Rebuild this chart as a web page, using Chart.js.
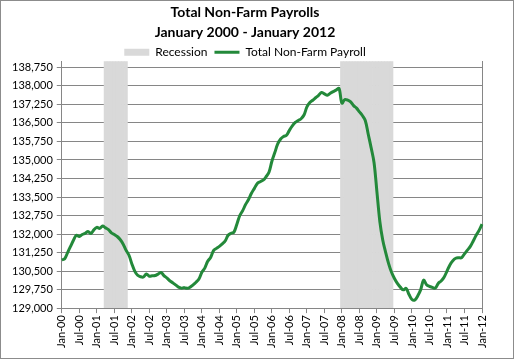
<!DOCTYPE html>
<html>
<head>
<meta charset="utf-8">
<script src="https://cdn.jsdelivr.net/npm/chart.js@4"></script>
<style>
  body { margin: 0; background: #fff; }
  #wrap { width: 514px; height: 359px; box-sizing: border-box; border: 1px solid #8c8c8c; }
</style>
</head>
<body>
<div id="wrap"><canvas id="myChart" width="512" height="357"></canvas></div>
<script>
// month labels Jan-00 .. Jan-12
let monthNames = ["Jan", "Feb", "Mar", "Apr", "May", "Jun", "Jul", "Aug", "Sep", "Oct", "Nov", "Dec"];
let months = [];
for (let y = 0; y <= 12; y++) {
    for (let m = 0; m < 12; m++) {
        if (y === 12 && m > 0) break;
        months.push(monthNames[m] + "-" + String(y).padStart(2, "0"));
    }
}

// Total non-farm payroll (thousands), one value per month
let payroll2000 = [130950, 131000, 131250, 131500, 131750, 131950, 131900, 131980, 132030, 132100, 132020, 132170];
let payroll2001 = [132270, 132230, 132330, 132250, 132180, 132050, 131980, 131900, 131780, 131600, 131350, 131150];
let payroll2002 = [130800, 130500, 130330, 130270, 130260, 130380, 130290, 130310, 130320, 130380, 130440, 130320];
let payroll2003 = [130220, 130110, 130030, 129940, 129850, 129810, 129830, 129800, 129850, 129940, 130050, 130180];
let payroll2004 = [130450, 130620, 130900, 131050, 131330, 131420, 131500, 131600, 131720, 131950, 132030, 132080];
let payroll2005 = [132400, 132750, 132950, 133200, 133400, 133650, 133850, 134050, 134120, 134180, 134320, 134500];
let payroll2006 = [134950, 135300, 135650, 135850, 135950, 136000, 136200, 136380, 136520, 136600, 136670, 136820];
let payroll2007 = [137150, 137330, 137420, 137520, 137620, 137730, 137680, 137620, 137700, 137770, 137830, 137900];
let payroll2008 = [137300, 137450, 137420, 137350, 137200, 137100, 136950, 136800, 136600, 136050, 135500, 134900];
let payroll2009 = [133700, 132500, 131750, 131250, 130800, 130450, 130200, 130000, 129850, 129740, 129800, 129550];
let payroll2010 = [129350, 129330, 129500, 129750, 130130, 129950, 129880, 129840, 129810, 130000, 130100, 130250];
let payroll2011 = [130500, 130750, 130920, 131020, 131040, 131040, 131200, 131350, 131500, 131720, 131950, 132150];
let payroll2012 = [132400];

let payroll = [].concat(payroll2000, payroll2001, payroll2002, payroll2003, payroll2004, payroll2005,
    payroll2006, payroll2007, payroll2008, payroll2009, payroll2010, payroll2011, payroll2012);

// recession months (shaded)
let recessionMonths = ["Apr-01", "May-01", "Jun-01", "Jul-01", "Aug-01", "Sep-01", "Oct-01", "Nov-01",
    "Jan-08", "Feb-08", "Mar-08", "Apr-08", "May-08", "Jun-08", "Jul-08", "Aug-08", "Sep-08", "Oct-08",
    "Nov-08", "Dec-08", "Jan-09", "Feb-09", "Mar-09", "Apr-09", "May-09", "Jun-09"];

// y axis range and tick labels
let yMin = 129000;
let yMax = 139000;
let yTicks = [129000, 129750, 130500, 131250, 132000, 132750, 133500, 134250,
    135000, 135750, 136500, 137250, 138000, 138750];

let recession = months.map(m => recessionMonths.includes(m) ? yMax : null);

let axisGray = "#868686";
let font = "Lato, 'DejaVu Sans', sans-serif";

// tighten the space under the legend
let legendSqueeze = {
    id: "legendSqueeze",
    beforeInit(chart) {
        let fit = chart.legend.fit;
        chart.legend.fit = function () {
            fit.bind(chart.legend)();
            this.height -= 7;
        };
    }
};

let ctx = document.getElementById("myChart").getContext("2d");
let myChart = new Chart(ctx, {
    type: "bar",
    data: {
        labels: months,
        datasets: [{
            type: "line",
            label: "Total Non-Farm Payroll",
            data: payroll,
            borderColor: "#23893a",
            backgroundColor: "#23893a",
            borderWidth: 3,
            pointRadius: 0,
            tension: 0.35,
            pointStyle: "line"
        }, {
            type: "bar",
            label: "Recession",
            data: recession,
            backgroundColor: "#d9d9d9",
            borderWidth: 0,
            barPercentage: 1.0,
            categoryPercentage: 1.0,
            pointStyle: "rect",
            yAxisID: "y"
        }]
    },
    plugins: [legendSqueeze],
    options: {
        responsive: false,
        animation: false,
        layout: { padding: { left: 7, right: 31, top: 2, bottom: 8 } },
        plugins: {
            title: {
                display: true,
                text: ["Total Non-Farm Payrolls", "January 2000 - January 2012"],
                color: "#000",
                font: { family: font, size: 14, weight: "bold", lineHeight: 1.4 },
                padding: { top: 0, bottom: -3 }
            },
            legend: {
                display: true,
                labels: {
                    usePointStyle: true,
                    pointStyleWidth: 25,
                    boxHeight: 7,
                    color: "#000",
                    padding: 7,
                    font: { family: font, size: 12 },
                    sort: (a, b) => b.datasetIndex - a.datasetIndex
                }
            },
            tooltip: { enabled: false }
        },
        scales: {
            x: {
                offset: false,
                grid: {
                    offset: false,
                    drawOnChartArea: false,
                    tickLength: 5,
                    color: c => (c.index % 6 === 0 ? axisGray : "rgba(0,0,0,0)")
                },
                border: { display: true, color: axisGray },
                ticks: {
                    autoSkip: false,
                    maxRotation: 90,
                    minRotation: 90,
                    padding: 2,
                    color: "#000",
                    font: { family: font, size: 11 },
                    callback: function (v, i) { return i % 6 === 0 ? months[i] : ""; }
                }
            },
            y: {
                min: yMin,
                max: yMax,
                afterBuildTicks: axis => { axis.ticks = yTicks.map(v => ({ value: v })); },
                grid: { color: axisGray, tickLength: 5 },
                border: { display: true, color: axisGray },
                ticks: {
                    padding: 4,
                    color: "#000",
                    font: { family: font, size: 11 },
                    callback: v => v.toLocaleString("en-US")
                }
            },
            y2: {
                position: "right",
                min: yMin,
                max: yMax,
                grid: { drawOnChartArea: false, drawTicks: false },
                border: { display: true, color: axisGray },
                ticks: { display: false }
            }
        }
    }
});
</script>
</body>
</html>
